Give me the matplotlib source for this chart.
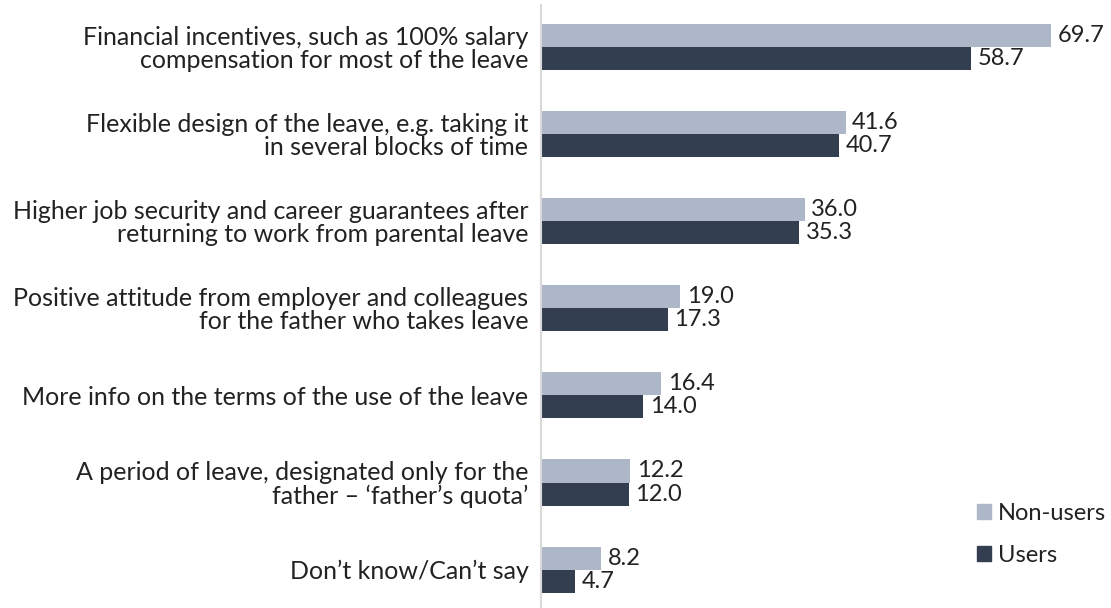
import matplotlib.pyplot as plt
from matplotlib.patches import Patch
import numpy as np

plt.rcParams['font.family'] = ['Lato', 'DejaVu Sans']

categories = [
    'Financial incentives, such as 100% salary\ncompensation for most of the leave',
    'Flexible design of the leave, e.g. taking it\nin several blocks of time',
    'Higher job security and career guarantees after\nreturning to work from parental leave',
    'Positive attitude from employer and colleagues\nfor the father who takes leave',
    'More info on the terms of the use of the leave',
    'A period of leave, designated only for the\nfather \u2013 \u2018father\u2019s quota\u2019',
    'Don\u2019t know/Can\u2019t say',
]
non_users = [69.7, 41.6, 36.0, 19.0, 16.4, 12.2, 8.2]
users = [58.7, 40.7, 35.3, 17.3, 14.0, 12.0, 4.7]

light = '#adb7c8'
dark = '#333f50'
txt = '#222222'

fig = plt.figure(figsize=(11.11, 6.08), dpi=100)
ax = fig.add_axes([541 / 1111, 0.0, (1060 - 541) / 1111, 603 / 608])

y = np.arange(len(categories))
h = 0.265
ax.barh(y - h / 2, non_users, height=h, color=light)
ax.barh(y + h / 2, users, height=h, color=dark)

for yi, v in zip(y, non_users):
    ax.text(v + 0.9, yi - h / 2, f'{v:.1f}', va='center', ha='left', fontsize=17, color=txt)
for yi, v in zip(y, users):
    ax.text(v + 0.9, yi + h / 2, f'{v:.1f}', va='center', ha='left', fontsize=17, color=txt)

ax.set_xlim(0, 70.9)
ax.set_ylim(6.44, -0.48)
ax.set_yticks(y)
ax.set_yticklabels(categories, fontsize=18, color=txt, ha='right', linespacing=1.0)
ax.tick_params(axis='y', length=0, pad=9)
ax.set_xticks([])
for s in ['top', 'right', 'bottom']:
    ax.spines[s].set_visible(False)
ax.spines['left'].set_color('#d9d9d9')
ax.spines['left'].set_linewidth(1.5)

handles = [Patch(color=light, label='Non-users'), Patch(color=dark, label='Users')]
fig.legend(handles=handles, loc='lower left', bbox_to_anchor=(977 / 1111, 42 / 608),
           frameon=False, fontsize=17, handlelength=0.6, handleheight=0.6,
           handletextpad=0.3, labelspacing=0.9, borderpad=0, borderaxespad=0,
           labelcolor=txt)

fig.savefig('out.png', dpi=100)
